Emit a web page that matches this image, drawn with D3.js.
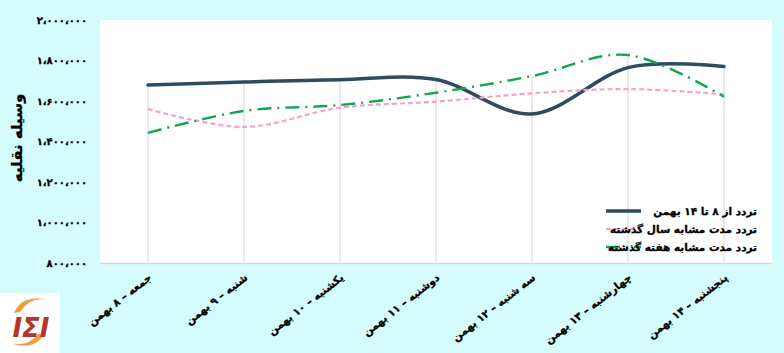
<!DOCTYPE html>
<html><head><meta charset="utf-8">
<script src="https://cdn.jsdelivr.net/npm/d3@7"></script>
<style>
html,body{margin:0;padding:0;background:#d5fcfc;}
svg{display:block;}
text{font-family:"DejaVu Sans","Noto Sans",sans-serif;font-weight:bold;fill:#000;}
.bold{stroke:#000;stroke-width:0.3px;}
</style></head>
<body>
<svg id="chart" width="784" height="353"></svg>
<script>
const categories = ["جمعه – ۸ بهمن", "شنبه – ۹ بهمن", "یکشنبه – ۱۰ بهمن", "دوشنبه – ۱۱ بهمن", "سه شنبه – ۱۲ بهمن", "چهارشنبه – ۱۳ بهمن", "پنجشنبه – ۱۴ بهمن"];
const seriesNames = ["تردد از ۸ تا ۱۴ بهمن", "تردد مدت مشابه سال گذشته", "تردد مدت مشابه هفته گذشته"];
const currentWeek = [1679000, 1694000, 1705000, 1706000, 1536000, 1765000, 1770000];
const lastYear = [1560000, 1472000, 1567000, 1597000, 1638000, 1659000, 1633000];
const lastWeek = [1443000, 1551000, 1580000, 1641000, 1723000, 1827000, 1621000];
const yTicks = [800000, 1000000, 1200000, 1400000, 1600000, 1800000, 2000000];
const yTitle = "وسیله نقلیه";

const svg = d3.select("#chart");
const plot = {left: 100, right: 772, top: 20, bottom: 263};

const fa = s => s.replace(/[0-9]/g, d => "۰۱۲۳۴۵۶۷۸۹"[+d]).replace(/,/g, "،");

const x = d3.scalePoint().domain(categories).range([plot.left, plot.right]).padding(0.5);
const y = d3.scaleLinear().domain([800000, 2000000]).range([plot.bottom, plot.top]);

svg.append("rect").attr("x", plot.left).attr("y", plot.top)
  .attr("width", plot.right - plot.left).attr("height", plot.bottom - plot.top)
  .attr("fill", "#ffffff");

const series = [
  {name: seriesNames[0], values: currentWeek, color: "#2f4b5f", width: 3.5, dash: null},
  {name: seriesNames[1], values: lastYear, color: "#f4a3cc", width: 2.2, dash: "5,3"},
  {name: seriesNames[2], values: lastWeek, color: "#13a64f", width: 2.4, dash: "14,6,2,6"}
];

categories.forEach((c, i) => {
  const mx = d3.max(series, s => s.values[i]);
  svg.append("line").attr("x1", x(c)).attr("x2", x(c))
    .attr("y1", y(mx)).attr("y2", plot.bottom)
    .attr("stroke", "#e2e2e2").attr("stroke-width", 1.5);
});

svg.append("line").attr("x1", plot.left).attr("x2", plot.right)
  .attr("y1", plot.bottom + 0.5).attr("y2", plot.bottom + 0.5)
  .attr("stroke", "#d9d9d9").attr("stroke-width", 1.5);

const yAxis = d3.axisLeft(y).tickValues(yTicks).tickSize(0).tickPadding(0)
  .tickFormat(d => fa(d3.format(",")(d)));
const gy = svg.append("g").attr("transform", `translate(87,0)`).call(yAxis);
gy.select(".domain").remove();
gy.selectAll("text").attr("class", "bold").style("font-size", "10px")
  .attr("font-family", "DejaVu Sans Condensed, DejaVu Sans").attr("fill", "#000");

svg.append("text").attr("class", "bold").attr("transform", "translate(22,138) rotate(-90)")
  .attr("text-anchor", "middle").style("font-size", "15px").text(yTitle);

categories.forEach(c => {
  svg.append("text").attr("class", "bold")
    .attr("transform", `translate(${x(c) + 2},${276}) rotate(-38)`)
    .attr("direction", "rtl").attr("text-anchor", "start")
    .attr("dy", "0.35em")
    .style("font-size", "10.5px").attr("font-family", "DejaVu Sans Condensed, DejaVu Sans")
    .text(c);
});

const line = d3.line().x((d, i) => x(categories[i])).y(d => y(d)).curve(d3.curveCatmullRom.alpha(0));
series.forEach(s => {
  svg.append("path").datum(s.values).attr("d", line)
    .attr("fill", "none").attr("stroke", s.color).attr("stroke-width", s.width)
    .attr("stroke-dasharray", s.dash).attr("stroke-linecap", s.dash ? "butt" : "round");
});

const lg = svg.append("g");
series.forEach((s, i) => {
  const ly = 211 + i * 18;
  lg.append("line").attr("x1", 606).attr("x2", 641).attr("y1", ly).attr("y2", ly)
    .attr("stroke", s.color).attr("stroke-width", s.width).attr("stroke-dasharray", s.dash);
  lg.append("text").attr("class", "bold").attr("x", 757).attr("y", ly).attr("dy", "0.35em")
    .attr("direction", "rtl").attr("text-anchor", "start")
    .style("font-size", "10.5px").attr("font-family", "DejaVu Sans Condensed, DejaVu Sans")
    .text(s.name);
});

const logo = svg.append("g");
logo.append("rect").attr("x", 0).attr("y", 293).attr("width", 60).attr("height", 60).attr("fill", "#ffffff");
logo.append("path").attr("d", "M14,313 Q22,294 48,300 Q30,296 20,312 Z").attr("fill", "#e8a040");
logo.append("path").attr("d", "M44,334 Q36,350 12,344 Q30,346 38,334 Z").attr("fill", "#e8a040");
logo.append("text").attr("x", 31).attr("y", 337).attr("text-anchor", "middle")
  .attr("font-family", "Liberation Serif").style("font-style", "italic").style("font-size", "26px")
  .style("fill", "#b8342a").text("IΣI");
</script>
</body></html>
